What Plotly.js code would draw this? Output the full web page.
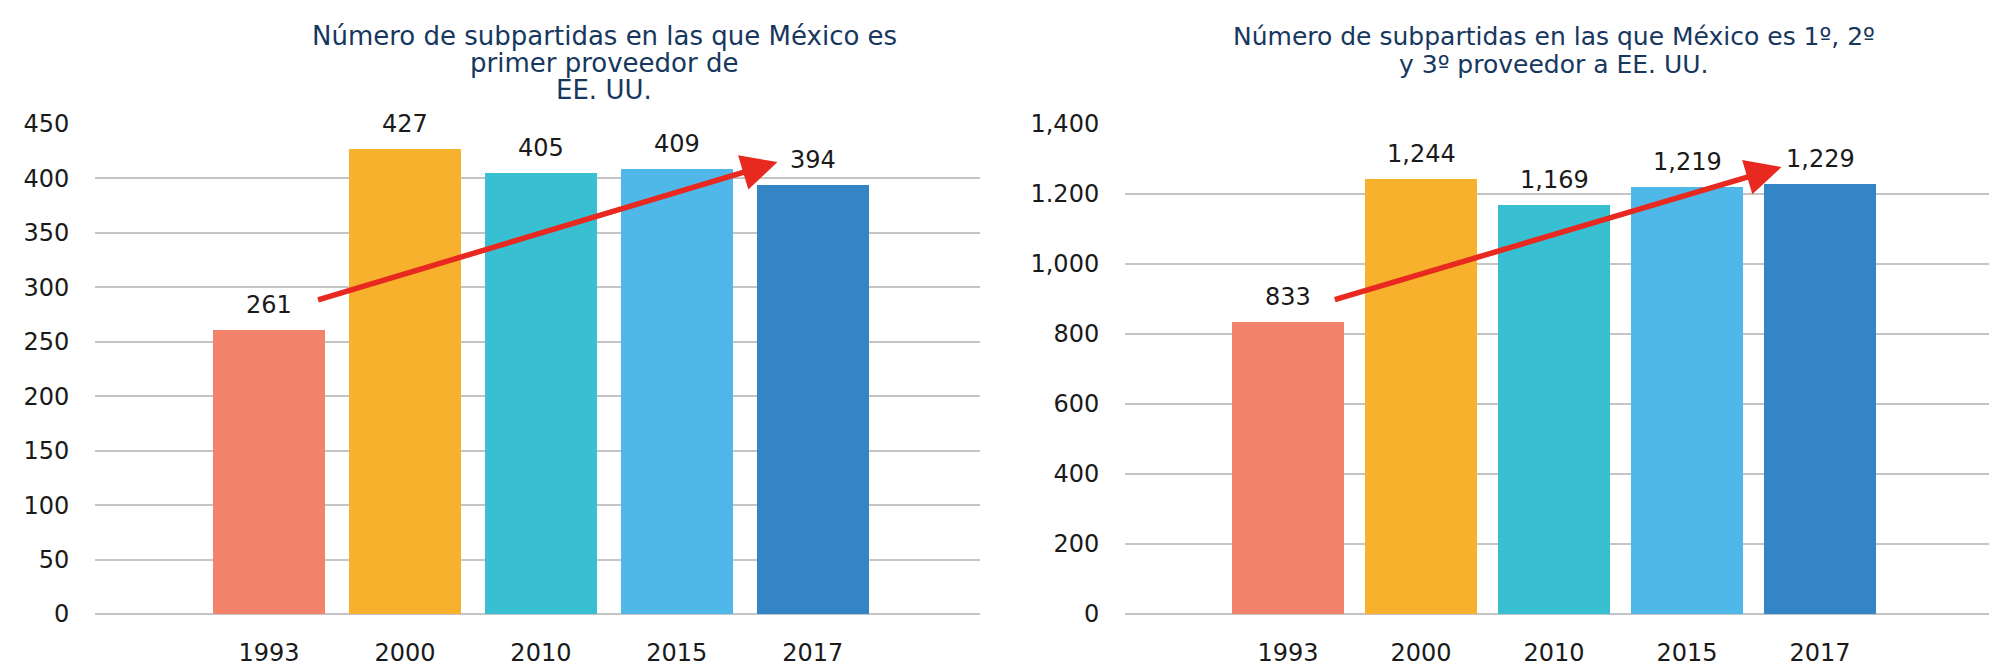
<!DOCTYPE html>
<html>
<head>
<meta charset="utf-8">
<script src="https://cdn.plot.ly/plotly-3.0.1.min.js"></script>
<style>html,body{margin:0;padding:0;background:#fff;}</style>
</head>
<body>
<div id="chart" style="width:1989px;height:666px;"></div>
<script>
// ---- data ----
const years = ["1993", "2000", "2010", "2015", "2017"];
const firstSupplier = [261, 427, 405, 409, 394];
const firstSupplierLabels = ["261", "427", "405", "409", "394"];
const topThreeSupplier = [833, 1244, 1169, 1219, 1229];
const topThreeSupplierLabels = ["833", "1,244", "1,169", "1,219", "1,229"];
const barColors = ["#f2826a", "#f7b12d", "#38c0d2", "#4fb8e8", "#3485c6"];
const leftTickVals = [0, 50, 100, 150, 200, 250, 300, 350, 400, 450];
const leftTickText = ["0", "50", "100", "150", "200", "250", "300", "350", "400", "450"];
const rightTickVals = [0, 200, 400, 600, 800, 1000, 1200, 1400];
const rightTickText = ["0", "200", "400", "600", "800", "1,000", "1.200", "1,400"];
const leftTitle = ["Número de subpartidas en las que México es", "primer proveedor de", "EE. UU."];
const rightTitle = ["Número de subpartidas en las que México es 1º, 2º", "y 3º proveedor a EE. UU."];
// trend arrows (tail -> head), in axis coordinates (category index, value)
const leftArrow = {from: [0.35, 288], to: [3.74, 415]};
const rightArrow = {from: [0.34, 897], to: [3.71, 1277]};

const W = 1989, H = 666, T = 124, B = 52;
const numFont = {family: "DejaVu Sans, sans-serif", size: 24, color: "#1a1a1a"};
const gridColor = "#c4c4c4";
const py = p => (H - B - p) / (H - T - B);

const traces = [
  {type: "bar", x: years, y: firstSupplier, marker: {color: barColors}, width: 0.82,
   xaxis: "x", yaxis: "y", hoverinfo: "none"},
  {type: "bar", x: years, y: topThreeSupplier, marker: {color: barColors}, width: 0.845,
   xaxis: "x2", yaxis: "y2", hoverinfo: "none"}
];

const ann = [];
years.forEach((yr, i) => {
  ann.push({xref: "x", yref: "y", x: i, y: firstSupplier[i], text: firstSupplierLabels[i],
            showarrow: false, xanchor: "center", yanchor: "bottom", yshift: 9, font: numFont});
  ann.push({xref: "x2", yref: "y2", x: i, y: topThreeSupplier[i], text: topThreeSupplierLabels[i],
            showarrow: false, xanchor: "center", yanchor: "bottom", yshift: 9, font: numFont});
});
const arrowStyle = {showarrow: true, arrowhead: 2, arrowsize: 1.3, arrowwidth: 5.5,
                    arrowcolor: "#e8291f", standoff: 0, text: ""};
ann.push(Object.assign({xref: "x", yref: "y", axref: "x", ayref: "y",
  x: leftArrow.to[0], y: leftArrow.to[1], ax: leftArrow.from[0], ay: leftArrow.from[1]}, arrowStyle));
ann.push(Object.assign({xref: "x2", yref: "y2", axref: "x2", ayref: "y2",
  x: rightArrow.to[0], y: rightArrow.to[1], ax: rightArrow.from[0], ay: rightArrow.from[1]}, arrowStyle));

const leftTitleFont = {family: "DejaVu Sans, sans-serif", size: 26, color: "#17375e"};
const rightTitleFont = {family: "DejaVu Sans, sans-serif", size: 25, color: "#17375e"};
const leftTitleY = [36, 63, 90];
leftTitle.forEach((t, i) => ann.push({xref: "paper", yref: "paper", x: 604 / W, y: py(leftTitleY[i]),
  text: t, showarrow: false, xanchor: "center", yanchor: "middle", font: leftTitleFont}));
const rightTitleY = [36, 64];
rightTitle.forEach((t, i) => ann.push({xref: "paper", yref: "paper", x: 1554 / W, y: py(rightTitleY[i]),
  text: t, showarrow: false, xanchor: "center", yanchor: "middle", font: rightTitleFont}));

const xCommon = {type: "category", showgrid: false, zeroline: false, showline: false,
  ticks: "outside", ticklen: 17, tickcolor: "rgba(0,0,0,0)", tickfont: numFont, fixedrange: true};
const yCommon = {showgrid: true, gridcolor: gridColor, gridwidth: 2, zeroline: true,
  zerolinecolor: gridColor, zerolinewidth: 2, showline: false, ticks: "outside", ticklen: 20,
  tickcolor: "rgba(0,0,0,0)", tickfont: numFont, tickmode: "array", fixedrange: true};

const layout = {
  width: W, height: H, margin: {l: 0, r: 0, t: T, b: B, pad: 0},
  paper_bgcolor: "#ffffff", plot_bgcolor: "#ffffff", showlegend: false, bargap: 0,
  xaxis: Object.assign({}, xCommon, {domain: [95 / W, 980 / W], range: [-1.28, 5.23], anchor: "y"}),
  yaxis: Object.assign({}, yCommon, {range: [0, 450], tickvals: leftTickVals, ticktext: leftTickText, anchor: "x"}),
  xaxis2: Object.assign({}, xCommon, {domain: [1125 / W, 1], range: [-1.226, 5.27], anchor: "y2"}),
  yaxis2: Object.assign({}, yCommon, {range: [0, 1400], tickvals: rightTickVals, ticktext: rightTickText, anchor: "x2"}),
  annotations: ann
};

Plotly.newPlot("chart", traces, layout, {displayModeBar: false, staticPlot: true});
</script>
</body>
</html>
